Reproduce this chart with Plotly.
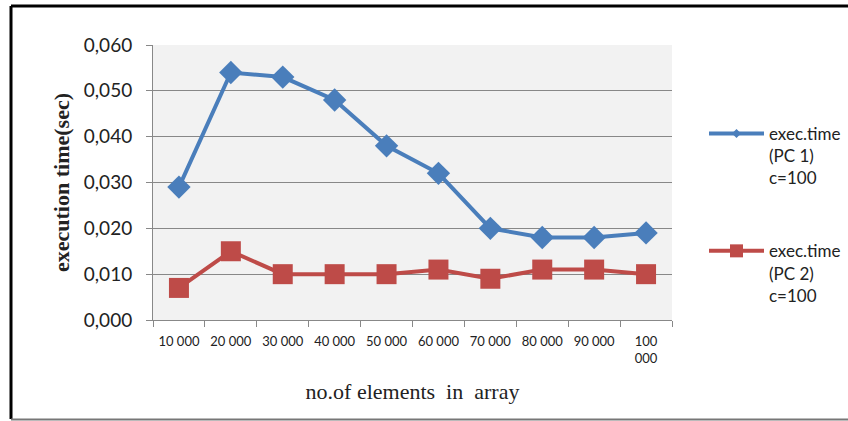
import plotly.graph_objects as go

categories = ["10 000", "20 000", "30 000", "40 000", "50 000", "60 000",
              "70 000", "80 000", "90 000", "100<br>000"]
pc1_values = [0.029, 0.054, 0.053, 0.048, 0.038, 0.032, 0.020, 0.018, 0.018, 0.019]
pc2_values = [0.007, 0.015, 0.010, 0.010, 0.010, 0.011, 0.009, 0.011, 0.011, 0.010]
pc1_name = "exec.time<br>(PC 1)<br>c=100"
pc2_name = "exec.time<br>(PC 2)<br>c=100"
y_ticks = [0, 0.01, 0.02, 0.03, 0.04, 0.05, 0.06]

W, H = 848, 421
BLUE = "#4a7ebb"
RED = "#be4b48"

fig = go.Figure()
fig.add_trace(go.Scatter(
    x=categories, y=pc1_values, name=pc1_name, mode="lines+markers",
    line=dict(color=BLUE, width=4),
    marker=dict(symbol="diamond", size=18, color=BLUE),
    showlegend=False))
fig.add_trace(go.Scatter(
    x=categories, y=pc2_values, name=pc2_name, mode="lines+markers",
    line=dict(color=RED, width=4),
    marker=dict(symbol="square", size=20, color=RED),
    showlegend=False))
# legend samples (smaller markers, as in the reference legend)
fig.add_trace(go.Scatter(
    x=[None], y=[None], name=pc1_name, mode="lines+markers",
    line=dict(color=BLUE, width=4),
    marker=dict(symbol="diamond", size=7, color=BLUE),
    legendgroup="a"))
fig.add_trace(go.Scatter(
    x=[None], y=[None], name=pc2_name, mode="lines+markers",
    line=dict(color=RED, width=4),
    marker=dict(symbol="square", size=13, color=RED),
    legendgroup="b"))

def px(x):
    return x / W

def py(y):
    return 1 - y / H

fig.update_layout(
    width=W, height=H,
    margin=dict(l=0, r=0, t=0, b=0, autoexpand=False),
    paper_bgcolor="white",
    plot_bgcolor="#f2f2f2",
    separators=", ",
    font=dict(family="Lato, Open Sans, sans-serif", color="#222"),
    showlegend=True,
    legend=dict(
        x=px(704), y=py(116), xanchor="left", yanchor="top",
        font=dict(size=17, family="Lato, sans-serif", color="#222"),
        tracegroupgap=48, valign="top", itemwidth=55,
        bgcolor="rgba(0,0,0,0)",
    ),
    xaxis=dict(
        domain=[px(153), px(672)],
        type="category",
        automargin=False,
        tickson="boundaries",
        ticks="outside", ticklen=6, tickcolor="#888", tickwidth=1,
        showline=True, linecolor="#888", linewidth=1,
        showgrid=False,
        tickfont=dict(size=13, family="Lato, sans-serif", color="#222"),
        ticklabelstandoff=9,
        title=dict(text="no.of elements  in  array",
                   font=dict(size=22, family="Liberation Serif, serif", color="#222"),
                   standoff=19),
        range=[-0.5, 9.5],
    ),
    yaxis=dict(
        domain=[py(320), py(45)],
        range=[0, 0.06],
        automargin=False,
        tickvals=y_ticks,
        tickformat=".3f",
        ticks="outside", ticklen=6, tickcolor="#888",
        showline=True, linecolor="#888", linewidth=1,
        showgrid=True, gridcolor="#888", gridwidth=1,
        zeroline=False,
        tickfont=dict(size=19, family="Lato, sans-serif", color="#222"),
        ticklabelstandoff=10,
        title=dict(text="<b>execution time(sec)</b>",
                   font=dict(size=22, family="Liberation Serif, serif", color="#222"),
                   standoff=8),
    ),
)

# outer frame
fig.add_shape(type="line", xref="paper", yref="paper",
              x0=px(11), x1=1.0, y0=py(6), y1=py(6), line=dict(color="black", width=3))
fig.add_shape(type="line", xref="paper", yref="paper",
              x0=px(11), x1=px(11), y0=py(6), y1=py(419), line=dict(color="black", width=3))
fig.add_shape(type="line", xref="paper", yref="paper",
              x0=px(11), x1=1.0, y0=py(419.5), y1=py(419.5), line=dict(color="#777", width=2))

fig.write_html("out.html", config={"displayModeBar": False},
               post_script="document.body.style.margin='0';document.body.style.overflow='hidden';")
